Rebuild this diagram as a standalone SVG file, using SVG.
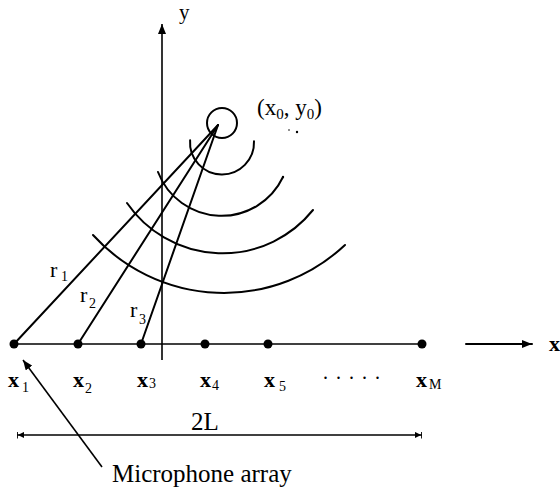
<svg xmlns="http://www.w3.org/2000/svg" width="560" height="490" viewBox="0 0 560 490">
<style>
.ln{stroke:#000;stroke-width:2;fill:none;stroke-linecap:round}
.thin{stroke:#000;stroke-width:1.6;fill:none}
.t{font-family:"Liberation Serif","Times New Roman",serif;fill:#000}
.xl{font-family:"Liberation Serif","Times New Roman",serif;font-weight:bold;font-size:22px;fill:#000}
.sub{font-family:"Liberation Serif","Times New Roman",serif;font-size:14px;fill:#000}
.dot{fill:#000}
</style>
<defs>
<marker id="ah" viewBox="0 0 10 8" refX="10" refY="4" markerWidth="10" markerHeight="8" markerUnits="userSpaceOnUse" orient="auto-start-reverse"><path d="M0,0 L10,4 L0,8 z" fill="#000"/></marker>
<marker id="dh" viewBox="0 0 8 8" refX="8" refY="4" markerWidth="7" markerHeight="7" markerUnits="userSpaceOnUse" orient="auto-start-reverse"><path d="M0,0.5 L7,4 L0,7.5 z M7,0 L8.5,0 L8.5,8 L7,8 z" fill="#000"/></marker>
</defs>
<g id="axes">
<line class="thin" x1="162" y1="360" x2="162" y2="24" marker-end="url(#ah)"/>
<text class="t" x="179" y="19" font-size="21">y</text>
<line class="ln" x1="466" y1="344" x2="532" y2="344" marker-end="url(#ah)"/>
<text class="xl" x="549" y="351">x</text>
</g>
<g id="source">
<circle cx="222" cy="123" r="15" class="ln"/>
<text class="t" x="257" y="115" font-size="23">(x<tspan font-size="15" dy="4">0</tspan><tspan dy="-4">, y</tspan><tspan font-size="15" dy="4">0</tspan><tspan dy="-4">)</tspan></text>
<circle class="dot" cx="289" cy="130" r="0.8"/>
<circle class="dot" cx="297" cy="132" r="1.2"/>
<circle class="dot" cx="283" cy="177" r="1.2"/>
</g>
<g id="wavefronts">
<path class="ln" d="M190.1,140.2 A32,32 0 1 0 254,141.3"/>
<path class="ln" d="M158,172 A68,68 0 0 0 283,177"/>
<path class="ln" d="M127,203 A116,116 0 0 0 313,210"/>
<path class="ln" d="M93,235 A177,177 0 0 0 345,245"/>
</g>
<g id="connectors">
<line class="ln" x1="218" y1="125" x2="14" y2="344"/>
<line class="ln" x1="218" y1="125" x2="78" y2="344"/>
<line class="ln" x1="218" y1="125" x2="141" y2="344"/>
<line class="thin" x1="14" y1="344" x2="422" y2="344"/>
</g>
<g id="range-labels">
<text class="t" x="50" y="277" font-size="22">r</text><text class="sub" x="61" y="281">1</text>
<text class="t" x="80" y="302" font-size="22">r</text><text class="sub" x="89" y="308">2</text>
<text class="t" x="130" y="317" font-size="22">r</text><text class="sub" x="139" y="324">3</text>
</g>
<g id="mic-x1"><circle class="dot" cx="14" cy="344" r="4.5"/><text class="xl" x="8" y="387">x</text><text class="sub" x="22" y="392">1</text></g>
<g id="mic-x2"><circle class="dot" cx="78" cy="344" r="4.5"/><text class="xl" x="73" y="387">x</text><text class="sub" x="85" y="393">2</text></g>
<g id="mic-x3"><circle class="dot" cx="141" cy="344" r="4.5"/><text class="xl" x="137" y="387">x</text><text class="sub" x="149" y="388" font-size="15">3</text></g>
<g id="mic-x4"><circle class="dot" cx="205" cy="344" r="4.5"/><text class="xl" x="200" y="387">x</text><text class="sub" x="212" y="390">4</text></g>
<g id="mic-x5"><circle class="dot" cx="268" cy="344" r="4.5"/><text class="xl" x="264" y="387">x</text><text class="sub" x="279" y="391">5</text></g>
<g id="ellipsis"><text class="t" x="323" y="379" font-size="20" letter-spacing="8">.....</text></g>
<g id="mic-xM"><circle class="dot" cx="422" cy="344" r="4.5"/><text class="xl" x="416" y="387">x</text><text class="sub" x="429" y="389" font-size="12">M</text></g>
<g id="dimension">
<line class="thin" x1="17" y1="435" x2="422" y2="435" marker-start="url(#dh)" marker-end="url(#dh)"/>
<text class="t" x="191" y="430" font-size="25">2L</text>
</g>
<g id="array-label">
<line class="thin" x1="102" y1="467" x2="23" y2="360" marker-end="url(#ah)"/>
<text class="t" x="112" y="482" font-size="25">Microphone array</text>
</g>
</svg>
